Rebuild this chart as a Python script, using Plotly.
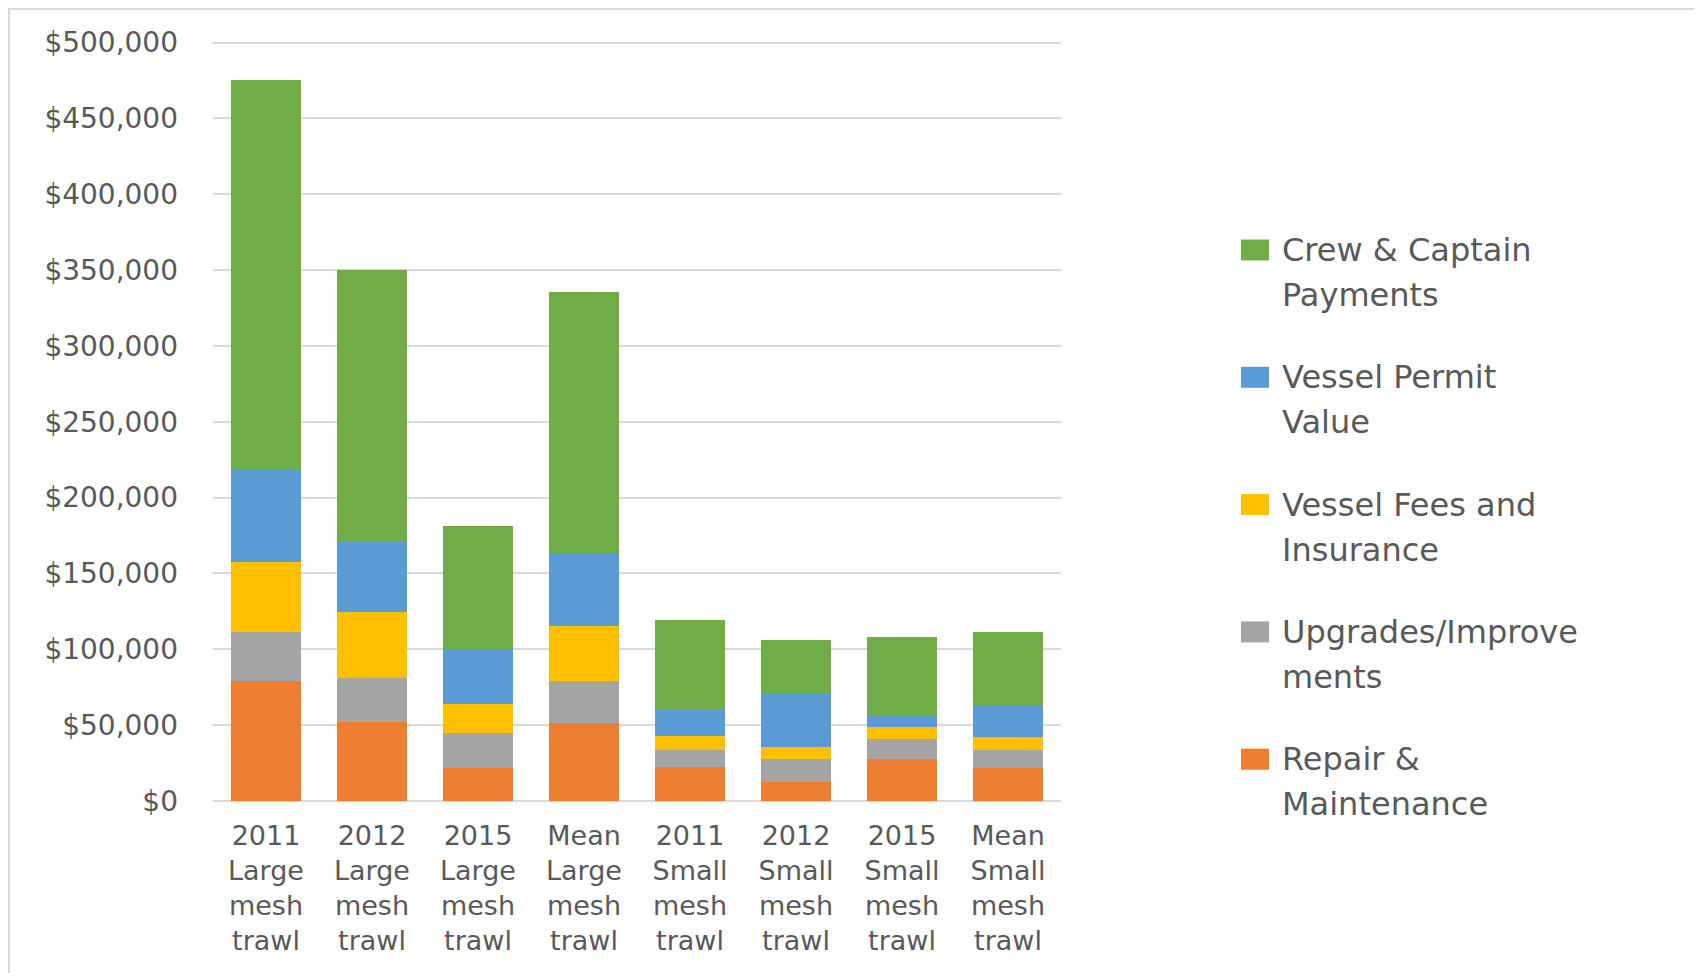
import plotly.graph_objects as go

categories = [
    "2011<br>Large<br>mesh<br>trawl", "2012<br>Large<br>mesh<br>trawl",
    "2015<br>Large<br>mesh<br>trawl", "Mean<br>Large<br>mesh<br>trawl",
    "2011<br>Small<br>mesh<br>trawl", "2012<br>Small<br>mesh<br>trawl",
    "2015<br>Small<br>mesh<br>trawl", "Mean<br>Small<br>mesh<br>trawl",
]

repair = [79000, 52000, 21800, 51100, 22700, 12800, 27700, 21800]
upgrades = [32200, 29000, 23100, 27900, 11200, 14700, 13000, 11900]
fees = [46400, 43400, 18900, 36300, 9000, 8400, 8200, 8200]
permit = [61200, 46400, 36100, 48000, 17000, 35000, 7000, 21100]
crew = [256800, 179100, 81600, 172300, 59200, 35400, 52400, 48200]

# bottom to top of each stack
series = [
    ("Repair &<br>Maintenance", repair, "#ED7D31"),
    ("Upgrades/Improve<br>ments", upgrades, "#A5A5A5"),
    ("Vessel Fees and<br>Insurance", fees, "#FFC000"),
    ("Vessel Permit<br>Value", permit, "#5B9BD5"),
    ("Crew & Captain<br>Payments", crew, "#70AD47"),
]

# page has an 8px body margin, so the figure is shifted to compensate
OFF = 8
W, H = 1702 - OFF, 973 - OFF
ML, MT, PW, PH = 205, 33, 848, 760
MR, MB = W - ML - PW, H - MT - PH


def px(x):
    return (x - OFF - ML) / PW


def py(y):
    return 1 - (y - OFF - MT) / PH


font = "DejaVu Sans"
grey = "#595959"

fig = go.Figure()
for name, vals, color in series:
    fig.add_trace(go.Bar(x=categories, y=vals, name=name, showlegend=False,
                         marker=dict(color=color, line=dict(width=0))))

shapes = [dict(type="rect", xref="paper", yref="paper",
               x0=px(9), x1=px(1698), y0=py(990), y1=py(9),
               line=dict(color="#D9D9D9", width=2), layer="below")]

# hand-made legend, top item is the top of the stack
annotations = []
for i, (name, vals, color) in enumerate(reversed(series)):
    cy = 250 + i * 127.3
    shapes.append(dict(type="rect", xref="paper", yref="paper",
                       x0=px(1241), x1=px(1269), y0=py(cy + 10.5), y1=py(cy - 10.5),
                       fillcolor=color, line=dict(width=0)))
    for j, line in enumerate(name.split("<br>")):
        annotations.append(dict(xref="paper", yref="paper", x=px(1280),
                                y=py(cy + j * 45), xanchor="left", yanchor="middle",
                                text=line, showarrow=False,
                                font=dict(family=font, size=32, color=grey)))

fig.update_layout(
    barmode="stack",
    bargap=0.345,
    width=W, height=H,
    margin=dict(l=ML, r=MR, t=MT, b=MB),
    plot_bgcolor="white", paper_bgcolor="white",
    font=dict(family=font, size=27, color=grey),
    showlegend=False,
    xaxis=dict(showgrid=False, showline=False, tickfont=dict(size=27),
               ticklabelstandoff=16),
    yaxis=dict(range=[0, 501000], tick0=0, dtick=50000,
               tickprefix="$", tickformat=",",
               showgrid=True, gridcolor="#D9D9D9", gridwidth=2,
               zeroline=True, zerolinecolor="#D9D9D9", zerolinewidth=2,
               showline=False, ticklabelstandoff=34, tickfont=dict(size=28)),
    shapes=shapes,
    annotations=annotations,
)

fig.write_html("out.html")
